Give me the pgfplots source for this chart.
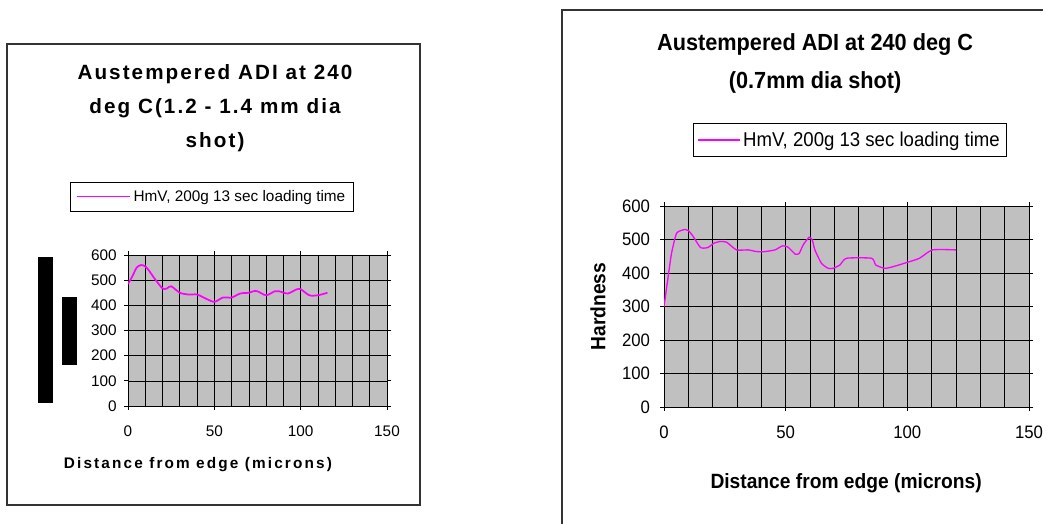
\documentclass[border=0pt]{standalone}
\usepackage{pgfplots}
\pgfplotsset{compat=1.18}
\usepackage{fontspec}
\setmainfont{Liberation Sans}
\newfontfamily\spaced[LetterSpace=10]{Liberation Sans}
\newfontfamily\spacedx[LetterSpace=14]{Liberation Sans}
\newfontfamily\narrowf[FakeStretch=0.93]{Liberation Sans}
\definecolor{plotgray}{RGB}{192,192,192}
\definecolor{magline}{RGB}{255,0,255}

\pgfplotstableread{
x y
0 485
2.5 515
5 550
7.5 560
10 555
12.5 535
15 510
20 467
22.5 467
25 476
30 450
35 443
40 443
45 427
50 414
55 431
60 431
65 447
70 450
72.5 456
75 456
80 440
85 456
87.5 456
92.5 447
97.5 463
100 464
105 440
110 440
115.5 450
}\leftdata

\pgfplotstableread{
x y
0 300
1.8 394
3.1 459
5.2 519
8.6 530
10 527
12 509
15 476
18 476
20.5 489
23 494
25.7 492
29.8 469
34.6 469
38 464
41.5 464
45.6 469
48.7 481
51 477
54 456
55.6 459
57.2 484
59.7 507
61 497
62 469
64.7 429
67.5 414
69.5 414
72.3 424
75 444
85.3 444
87 424
90.7 414
94.2 419
99.6 431
105 444
110.3 469
120 469
}\rightdata

\begin{document}
\begin{tikzpicture}
\useasboundingbox (0,0) rectangle (786pt,393pt);
\begin{scope}[shift={(0pt,393pt)}, x=0.75pt, y=-0.75pt]
  \draw[line width=1.1pt, black!80] (7,44) rectangle (420,505);
  \draw[line width=1.1pt, black!80] (1043,10) -- (562,10) -- (562,540);
  \fill[black] (38,257) rectangle (53,403);
  \fill[black] (62,297) rectangle (77,365);
\end{scope}

% Left chart
\begin{axis}[
  at={(96pt,88.5pt)}, anchor=south west,
  scale only axis, width=194.25pt, height=113.25pt,
  xmin=0, xmax=150, ymin=0, ymax=600,
  xtick={0,50,100,150}, ytick={0,100,...,600},
  minor xtick={10,20,30,40,60,70,80,90,110,120,130,140},
  grid=both,
  major grid style={black, line width=0.5pt},
  minor grid style={black, line width=0.5pt},
  axis background/.style={fill=plotgray},
  axis line style={black, line width=0.6pt},
  tick align=outside, major tick length=3pt, minor tick length=0pt,
  tick style={black, line width=0.6pt},
  ticklabel style={font=\fontsize{11.5}{11.5}\selectfont},
  /pgf/number format/assume math mode=true,
  xticklabel style={yshift=-8pt},
  yticklabel style={xshift=-2pt},
  xlabel={Distance from edge (microns)},
  xlabel style={font=\spacedx\bfseries\fontsize{11.5}{12}\selectfont, at={(axis description cs:0.27,-0.39)}, anchor=center},
  title={Austempered ADI at 240\\deg C(1.2 - 1.4 mm dia\\shot)},
  title style={font=\spaced\bfseries\fontsize{15.5}{25.5}\selectfont, align=center, at={(axis description cs:0.336,1.92)}, anchor=center},
  legend style={at={(axis description cs:0.324,1.387)}, anchor=center, draw=black, line width=0.6pt,
    font=\fontsize{11.5}{12}\selectfont, inner xsep=4pt, inner ysep=4pt},
  legend cell align=left,
  legend image code/.code={\draw[#1] (0pt,0pt) -- (40pt,0pt);},
]
\addplot[magline, line width=1.3pt, smooth, tension=0.45] table[x=x,y=y] {\leftdata};
\addlegendentry{HmV, 200g 13 sec loading time}
\end{axis}

% Right chart
\begin{axis}[
  at={(498pt,87.75pt)}, anchor=south west,
  scale only axis, width=273.75pt, height=150.75pt,
  xmin=0, xmax=150, ymin=0, ymax=600,
  xtick={0,50,100,150}, ytick={0,100,...,600},
  minor xtick={10,20,30,40,60,70,80,90,110,120,130,140},
  grid=both,
  major grid style={black, line width=0.5pt},
  minor grid style={black, line width=0.5pt},
  axis background/.style={fill=plotgray},
  axis line style={black, line width=0.6pt},
  tick align=outside, major tick length=3pt, minor tick length=0pt,
  tick style={black, line width=0.6pt},
  ticklabel style={font=\narrowf\fontsize{13.5}{13.5}\selectfont},
  /pgf/number format/assume math mode=true,
  xticklabel style={yshift=-8pt},
  yticklabel style={xshift=-4pt},
  xlabel={Distance from edge (microns)},
  xlabel style={font=\narrowf\bfseries\fontsize{15.5}{16}\selectfont, at={(axis description cs:0.499,-0.378)}, anchor=center},
  ylabel={Hardness},
  ylabel style={font=\narrowf\bfseries\fontsize{15.5}{16}\selectfont, at={(axis description cs:-0.181,0.5)}, anchor=center},
  title={Austempered ADI at 240 deg C\\(0.7mm dia shot)},
  title style={font=\narrowf\bfseries\fontsize{17.5}{28.5}\selectfont, align=center, at={(axis description cs:0.414,1.67)}, anchor=center},
  legend style={at={(axis description cs:0.51,1.328)}, anchor=center, draw=black, line width=0.6pt,
    font=\narrowf\fontsize{15}{16}\selectfont, inner xsep=3pt, inner ysep=4pt},
  legend cell align=left,
  legend image code/.code={\draw[#1] (0pt,0pt) -- (31pt,0pt);},
]
\addplot[magline, line width=1pt, smooth, tension=0.35] table[x=x,y=y] {\rightdata};
\addlegendentry{HmV, 200g 13 sec loading time}
\end{axis}
\end{tikzpicture}
\end{document}
